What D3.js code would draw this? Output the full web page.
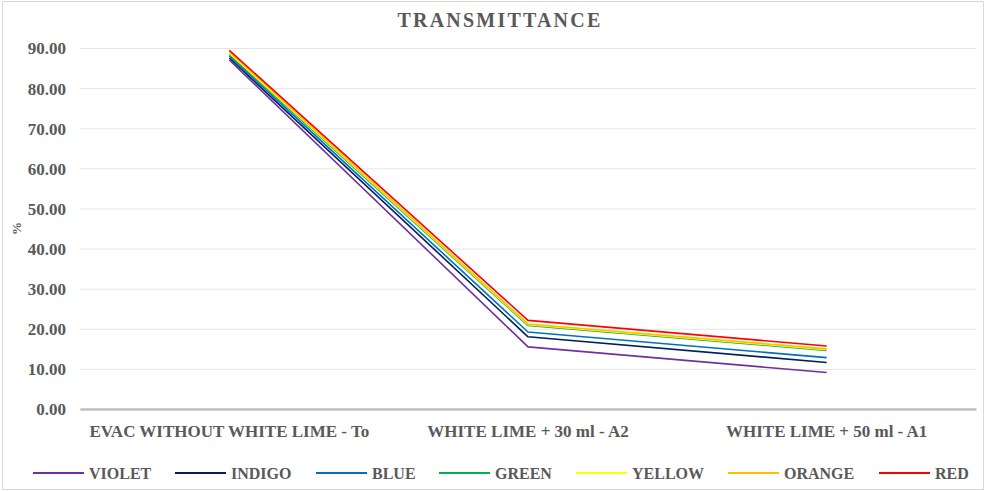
<!DOCTYPE html>
<html>
<head>
<meta charset="utf-8">
<script src="https://cdn.jsdelivr.net/npm/d3@7"></script>
<style>
  html, body { margin: 0; padding: 0; background: #fff; }
  svg { display: block; }
  svg text { font-family: "Liberation Serif", "Times New Roman", serif !important; font-weight: bold; fill: #595959; }
</style>
</head>
<body>
<svg id="chart" width="986" height="491"></svg>
<script>
// Sample conditions along the x axis
const categories = ["EVAC WITHOUT WHITE LIME - To", "WHITE LIME + 30 ml - A2", "WHITE LIME + 50 ml - A1"];

// Transmittance (%) per colour band
const violet = [87.0, 15.5, 9.1];
const indigo = [87.5, 18.0, 11.6];
const blue   = [88.0, 19.2, 12.8];
const green  = [88.4, 20.8, 14.6];
const yellow = [88.7, 21.0, 14.8];
const orange = [89.0, 21.2, 15.0];
const red    = [89.4, 22.1, 15.7];

const seriesNames = ["VIOLET", "INDIGO", "BLUE", "GREEN", "YELLOW", "ORANGE", "RED"];
const seriesColors = ["#7030A0", "#002060", "#0070C0", "#00B050", "#FFFF00", "#FFC000", "#FF0000"];
const seriesValues = [violet, indigo, blue, green, yellow, orange, red];

const yTicks = [0, 10, 20, 30, 40, 50, 60, 70, 80, 90];

const svg = d3.select("#chart");
const W = 986, H = 491;
const plot = { left: 80, right: 976, top: 48, bottom: 409 };

// outer chart border
svg.append("rect")
  .attr("x", 2.5).attr("y", 1.5).attr("width", W - 5).attr("height", H - 3)
  .attr("fill", "none").attr("stroke", "#D9D9D9").attr("stroke-width", 1);

const x = d3.scaleBand().domain(categories).range([plot.left, plot.right]);
const y = d3.scaleLinear().domain([0, 90]).range([plot.bottom, plot.top]);

// title
svg.append("text")
  .attr("x", 500).attr("y", 27)
  .attr("text-anchor", "middle")
  .style("font-size", "20px")
  .style("letter-spacing", "2.2px")
  .text("TRANSMITTANCE");

// gridlines and y tick labels
const yAxis = d3.axisLeft(y).tickValues(yTicks).tickFormat(d3.format(".2f"))
  .tickSize(-(plot.right - plot.left)).tickPadding(14);
const gy = svg.append("g").attr("transform", `translate(${plot.left},0)`).call(yAxis);
gy.select(".domain").remove();
gy.selectAll(".tick line").attr("stroke", "#E6E6E6").attr("stroke-width", 1);
gy.selectAll(".tick text")
  .style("font-size", "17px")
  .attr("fill", "#595959").attr("dy", "0.35em");

// x axis
const xAxis = d3.axisBottom(x).tickSize(0).tickPadding(16);
const gx = svg.append("g").attr("transform", `translate(0,${plot.bottom})`).call(xAxis);
gx.select(".domain").attr("stroke", "#BFBFBF").attr("stroke-width", 2.5);
gx.selectAll(".tick text")
  .style("font-size", "17px")
  .attr("fill", "#595959");

// y axis title
svg.append("text")
  .attr("transform", `translate(21,${(plot.top + plot.bottom) / 2}) rotate(-90)`)
  .attr("text-anchor", "middle")
  .style("font-size", "13px")
  .text("%");

// series lines
const line = d3.line()
  .x((d, i) => x(categories[i]) + x.bandwidth() / 2)
  .y(d => y(d));

seriesValues.forEach((vals, k) => {
  svg.append("path")
    .datum(vals)
    .attr("fill", "none")
    .attr("stroke", seriesColors[k])
    .attr("stroke-width", 1.6)
    .attr("stroke-linejoin", "round")
    .attr("d", line);
});

// legend
const legendX = [33, 175, 316, 439, 576, 728, 879];
const lg = svg.append("g").attr("transform", "translate(0,473)");
seriesNames.forEach((name, k) => {
  const g = lg.append("g").attr("transform", `translate(${legendX[k]},0)`);
  g.append("line").attr("x1", 0).attr("x2", 51).attr("y1", 0).attr("y2", 0)
    .attr("stroke", seriesColors[k]).attr("stroke-width", 2);
  g.append("text").attr("x", 56).attr("y", 0).attr("dy", "0.35em")
    .style("font-size", "16px").text(name);
});
</script>
</body>
</html>
